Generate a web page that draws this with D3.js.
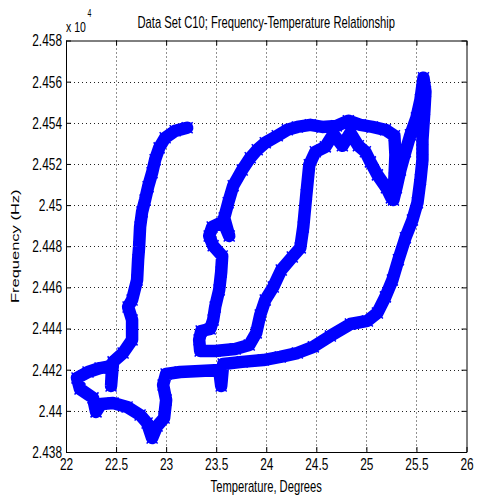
<!DOCTYPE html>
<html>
<head>
<meta charset="utf-8">
<script src="https://cdn.jsdelivr.net/npm/d3@7"></script>
<style>
  html, body { margin: 0; padding: 0; background: #fff; }
  svg { display: block; }
  text { font-family: "Liberation Sans", Arial, Helvetica, sans-serif; fill: #000; }
</style>
</head>
<body>
<script>
// ---- data ----
const temperature = [
  23.21, 23.09, 22.99, 22.93, 22.89, 22.86, 22.82, 22.79, 22.76, 22.74,
  22.73, 22.72, 22.71, 22.66, 22.62, 22.66, 22.66, 22.57, 22.47, 22.45,
  22.46, 22.34, 22.22, 22.11,
  22.14, 22.27, 22.30, 22.35, 22.47, 22.61, 22.74, 22.81, 22.86, 22.91,
  22.98, 23.00, 22.97, 23.00, 23.14, 23.34, 23.53, 23.55, 23.57, 23.76,
  23.97, 24.14, 24.31, 24.47, 24.64, 24.84, 25.01, 25.11, 25.19, 25.26,
  25.32, 25.39, 25.46, 25.51, 25.54, 25.56, 25.56, 25.58, 25.59, 25.57,
  25.54, 25.50, 25.44, 25.39, 25.34, 25.30, 25.27, 25.28, 25.29, 25.28,
  25.19, 25.06, 24.94, 24.82, 24.70, 24.56, 24.44, 24.31, 24.21, 24.11,
  23.99, 23.91, 23.84, 23.76, 23.67, 23.62, 23.58, 23.63, 23.57, 23.46,
  23.43, 23.47, 23.56, 23.55, 23.53, 23.49, 23.47, 23.44, 23.35, 23.33,
  23.34, 23.49, 23.69, 23.83, 23.90, 23.94, 23.99, 24.07, 24.15, 24.26,
  24.34, 24.37, 24.40, 24.43, 24.49, 24.59, 24.67, 24.76, 24.84, 24.92,
  24.99, 25.04, 25.11, 25.20, 25.25
];
const frequency = [
  24537.6, 24536.1, 24532.7, 24527.8, 24522.0, 24515.7, 24508.9, 24502.5, 24496.7, 24489.4,
  24479.7, 24473.4, 24463.6, 24453.9, 24450.5, 24444.2, 24434.5, 24428.1, 24423.8, 24412.1,
  24421.8, 24420.8, 24418.9, 24416.0,
  24410.6, 24406.3, 24399.5, 24403.3, 24403.8, 24401.9, 24398.0, 24394.1, 24386.8, 24392.6,
  24396.5, 24405.3, 24412.6, 24417.9, 24418.9, 24419.4, 24419.9, 24412.1, 24422.8, 24423.8,
  24424.7, 24426.2, 24428.1, 24431.1, 24436.4, 24442.2, 24443.7, 24447.6, 24455.4, 24463.6,
  24473.4, 24484.1, 24492.8, 24501.1, 24512.3, 24522.0, 24531.7, 24546.3, 24555.1, 24561.9,
  24551.2, 24542.4, 24534.2, 24525.9, 24517.1, 24508.4, 24502.5, 24513.2, 24524.4, 24533.7,
  24536.6, 24538.0, 24539.0, 24541.0, 24538.5, 24538.0, 24539.0, 24538.0, 24536.6, 24533.7,
  24530.3, 24526.9, 24523.0, 24517.1, 24509.4, 24501.1, 24493.8, 24485.0, 24491.9, 24489.4,
  24485.0, 24480.2, 24475.3, 24467.5, 24458.8, 24450.5, 24444.2, 24439.8, 24438.8, 24434.5,
  24429.1, 24429.1, 24430.1, 24432.0, 24437.9, 24446.6, 24453.9, 24460.2, 24468.5, 24474.8,
  24479.2, 24489.4, 24505.0, 24519.6, 24525.9, 24528.3, 24534.6, 24528.8, 24535.1, 24528.8,
  24525.9, 24521.0, 24514.7, 24508.4, 24503.5
];
const xTicks = [22, 22.5, 23, 23.5, 24, 24.5, 25, 25.5, 26];
const xTickLabels = ["22", "22.5", "23", "23.5", "24", "24.5", "25", "25.5", "26"];
const yTicks = [24380, 24400, 24420, 24440, 24460, 24480, 24500, 24520, 24540, 24560, 24580];
const yTickLabels = ["2.438", "2.44", "2.442", "2.444", "2.446", "2.448", "2.45", "2.452", "2.454", "2.456", "2.458"];
const titleText = "Data Set C10; Frequency-Temperature Relationship";
const xLabelText = "Temperature, Degrees";
const yLabelText = "Frequency (Hz)";

// ---- layout ----
const W = 481, H = 497;
const L = 66, R = 466.5, T = 40.5, B = 452;
const SQ = 0.7; // horizontal squeeze of the glyphs in the reference

const svg = d3.select("body").append("svg").attr("width", W).attr("height", H);
svg.append("rect").attr("width", W).attr("height", H).attr("fill", "#fff");

const x = d3.scaleLinear().domain([22, 26]).range([L, R]);
const y = d3.scaleLinear().domain([24380, 24580]).range([B, T]);

// grid
const grid = svg.append("g").attr("stroke", "#222").attr("stroke-width", 1)
  .attr("stroke-dasharray", "1,3");
grid.selectAll("line.gx").data(xTicks.slice(1, -1)).join("line")
  .attr("x1", d => Math.round(x(d)) + 0.5).attr("x2", d => Math.round(x(d)) + 0.5)
  .attr("y1", T).attr("y2", B);
grid.selectAll("line.gy").data(yTicks.slice(1, -1)).join("line")
  .attr("y1", d => Math.round(y(d)) + 0.5).attr("y2", d => Math.round(y(d)) + 0.5)
  .attr("x1", L).attr("x2", R);

// data line
const pts = temperature.map((t, i) => [t, frequency[i]]);
const line = d3.line().x(d => x(d[0])).y(d => y(d[1])).curve(d3.curveLinear);
svg.append("path").datum(pts).attr("d", line)
  .attr("fill", "none").attr("stroke", "#0000ff").attr("stroke-width", 12.5)
  .attr("stroke-linejoin", "round").attr("stroke-linecap", "round");
svg.append("g").selectAll("path").data(pts).join("path")
  .attr("transform", d => `translate(${x(d[0])},${y(d[1])})`)
  .attr("d", "M-5.5,-5.5L5.5,5.5M-5.5,5.5L5.5,-5.5")
  .attr("stroke", "#0000ff").attr("stroke-width", 1.5).attr("fill", "none");

// axes (ticks inside)
const fmtX = (d, i) => xTickLabels[i];
const fmtY = (d, i) => yTickLabels[i];
const axB = svg.append("g").attr("transform", `translate(0,${B})`)
  .call(d3.axisBottom(x).tickValues(xTicks).tickFormat(fmtX).tickSize(-5).tickSizeOuter(0).tickPadding(6));
const axT = svg.append("g").attr("transform", `translate(0,${T})`)
  .call(d3.axisTop(x).tickValues(xTicks).tickFormat("").tickSize(-5).tickSizeOuter(0));
const axL = svg.append("g").attr("transform", `translate(${L},0)`)
  .call(d3.axisLeft(y).tickValues(yTicks).tickFormat(fmtY).tickSize(-5).tickSizeOuter(0).tickPadding(4));
const axR = svg.append("g").attr("transform", `translate(${R},0)`)
  .call(d3.axisRight(y).tickValues(yTicks).tickFormat("").tickSize(-5).tickSizeOuter(0));
[axB, axT, axL, axR].forEach(g => {
  g.select(".domain").attr("stroke", "#000");
  g.selectAll(".tick line").attr("stroke", "#000");
});
axB.selectAll(".tick text").attr("font-size", 17).attr("fill", "#000")
  .attr("font-family", "Liberation Sans, Arial, sans-serif")
  .attr("transform", `scale(${SQ},1)`);
axL.selectAll(".tick text").attr("font-size", 17).attr("fill", "#000")
  .attr("font-family", "Liberation Sans, Arial, sans-serif")
  .attr("x", -4 / SQ)
  .attr("transform", `scale(${SQ},1)`);

// titles
function sqText(px, py, str, size, anchor) {
  return svg.append("text")
    .attr("transform", `translate(${px},${py}) scale(${SQ},1)`)
    .attr("text-anchor", anchor).attr("font-size", size).text(str);
}
sqText((L + R) / 2, 28, titleText, 16, "middle");
sqText((L + R) / 2, 492, xLabelText, 16, "middle");
sqText(L, 32, "x 10", 15, "start");
sqText(87.5, 17, "4", 10, "start");
svg.append("text")
  .attr("transform", `translate(19,${(T + B) / 2}) scale(${SQ},1) rotate(-90)`)
  .attr("text-anchor", "middle").attr("font-size", 16.5).text(yLabelText);
</script>
</body>
</html>
